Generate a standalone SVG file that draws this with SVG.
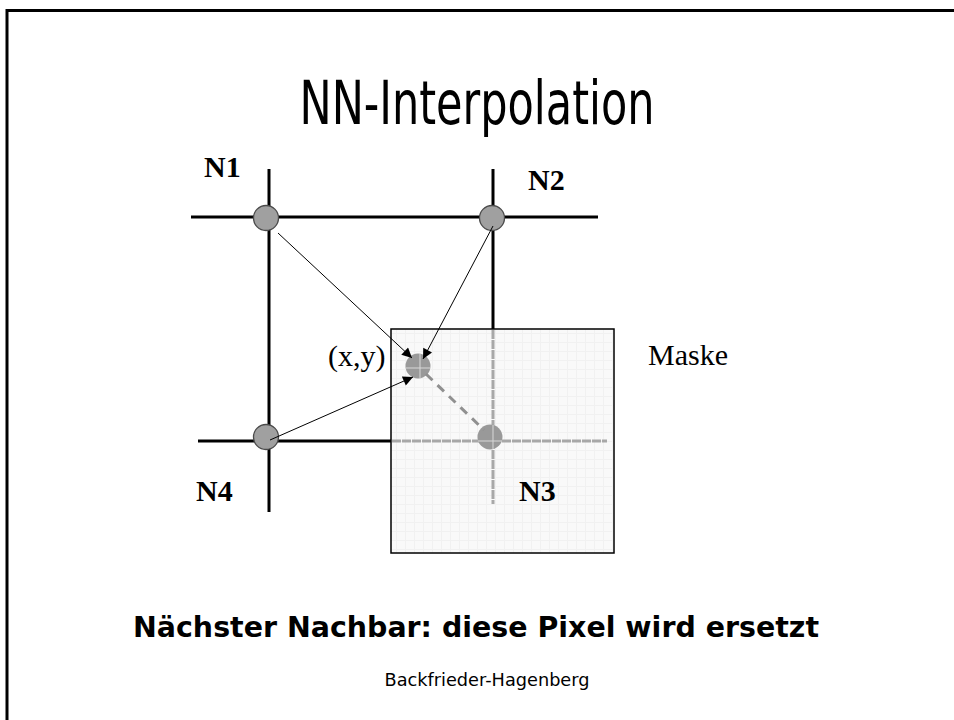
<svg xmlns="http://www.w3.org/2000/svg" width="954" height="720" viewBox="0 0 954 720">
<style>
.grid{stroke:#000;stroke-width:3;fill:none}
.gline{stroke:#a8a8a8;stroke-width:3;stroke-dasharray:9 1;fill:none}
.node{fill:#a0a0a0;stroke:#4a4a4a;stroke-width:1.3}
.mnode{fill:#999999;stroke:none}
.arrow{stroke:#000;stroke-width:1;fill:none;marker-end:url(#ah)}
.lbl{font-family:"Liberation Serif","Times New Roman",serif;font-size:30px;fill:#000}
.b{font-weight:bold}
.comic{font-family:"Comic Sans MS","DejaVu Sans","Liberation Sans",sans-serif;fill:#000}
</style>
<defs>
<marker id="ah" viewBox="0 0 10 10" refX="10" refY="5" markerWidth="12" markerHeight="10" markerUnits="userSpaceOnUse" orient="auto">
<path d="M0,0 L10,5 L0,10 z" fill="#000"/>
</marker>
<pattern id="mgrid" width="9" height="9" patternUnits="userSpaceOnUse">
<rect width="9" height="9" fill="#f9f9f9"/>
<path d="M0,0.5 H9 M0.5,0 V9" stroke="#f1f1f1" stroke-width="1"/>
</pattern>
</defs>
<rect width="954" height="720" fill="#fff"/>
<path d="M7,720 V10.5 H954" stroke="#000" stroke-width="3" fill="none"/>
<text class="comic" x="477" y="124" font-size="60" text-anchor="middle" textLength="355" lengthAdjust="spacingAndGlyphs">NN-Interpolation</text>
<g id="gridlines">
<line class="grid" x1="191" y1="217" x2="598" y2="217"/>
<line class="grid" x1="269" y1="169" x2="269" y2="512"/>
<line class="grid" x1="493" y1="169" x2="493" y2="330"/>
<line class="grid" x1="198" y1="441" x2="391" y2="441"/>
</g>
<g id="mask">
<rect x="391" y="329" width="223" height="224" fill="url(#mgrid)" stroke="#000" stroke-width="1.5"/>
<line class="gline" x1="392" y1="441" x2="607" y2="441"/>
<line class="gline" x1="493" y1="330" x2="493" y2="504"/>
<text class="lbl" x="648" y="365">Maske</text>
</g>
<g id="N1">
<circle class="node" cx="266" cy="218" r="12.5"/>
<text class="lbl b" x="204" y="177">N1</text>
</g>
<g id="N2">
<circle class="node" cx="492" cy="218" r="12.5"/>
<text class="lbl b" x="528" y="190">N2</text>
</g>
<g id="N4">
<circle class="node" cx="266" cy="437" r="12.5"/>
<text class="lbl b" x="196" y="501">N4</text>
</g>
<g id="N3">
<circle class="mnode" cx="490" cy="437" r="12.5"/>
<path d="M478,441 H502 M493,425 V449" stroke="#d8d8d8" stroke-width="1"/>
<text class="lbl b" x="519" y="501">N3</text>
</g>
<g id="P">
<circle class="mnode" cx="418" cy="366" r="12.5"/>
<path d="M406,368 H430 M420,354 V378" stroke="#d8d8d8" stroke-width="1"/>
<text class="lbl" x="328" y="366">(x,y)</text>
</g>
<g id="connectors">
<line class="arrow" x1="278" y1="233" x2="412" y2="358"/>
<line class="arrow" x1="493" y1="226" x2="423" y2="359"/>
<line class="arrow" x1="270" y1="440" x2="413" y2="377"/>
<line x1="426" y1="374" x2="484" y2="430" stroke="#909090" stroke-width="3" stroke-dasharray="9 7"/>
</g>
<text class="comic" x="476" y="637" font-size="28" font-weight="bold" text-anchor="middle" textLength="686" lengthAdjust="spacingAndGlyphs">Nächster Nachbar: diese Pixel wird ersetzt</text>
<text class="comic" x="487" y="686" font-size="17" text-anchor="middle" textLength="205" lengthAdjust="spacingAndGlyphs">Backfrieder-Hagenberg</text>
</svg>
